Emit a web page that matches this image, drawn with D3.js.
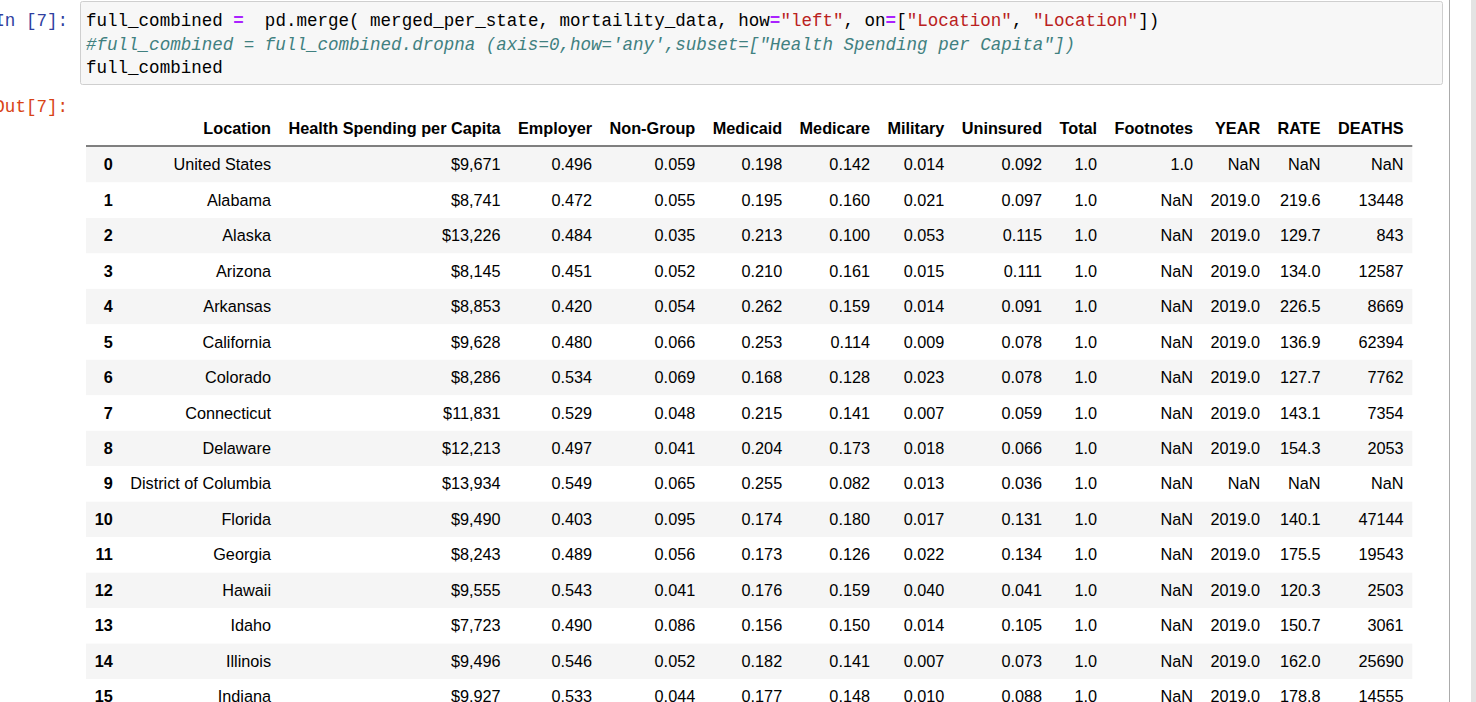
<!DOCTYPE html>
<html>
<head>
<meta charset="utf-8">
<script src="https://cdn.jsdelivr.net/npm/d3@7"></script>
<style>
  body { margin: 0; background: #fff; overflow: hidden; }
  svg { display: block; }
  .mono { font-family: "Liberation Mono", "DejaVu Sans Mono", monospace; font-size: 17.55px; }
  .cell { font-family: Arial, "Liberation Sans", sans-serif; font-size: 16.25px; fill: #000; }
  .head { font-weight: bold; }
</style>
</head>
<body>
<svg id="chart" width="1476" height="702"></svg>
<script>
// table data (null = NaN)
const headers = ['', 'Location', 'Health Spending per Capita', 'Employer', 'Non-Group', 'Medicaid',
  'Medicare', 'Military', 'Uninsured', 'Total', 'Footnotes', 'YEAR', 'RATE', 'DEATHS']
const locations = ['United States', 'Alabama', 'Alaska', 'Arizona', 'Arkansas', 'California', 'Colorado',
  'Connecticut', 'Delaware', 'District of Columbia', 'Florida', 'Georgia', 'Hawaii', 'Idaho', 'Illinois', 'Indiana']
const spending = [9671, 8741, 13226, 8145, 8853, 9628, 8286, 11831, 12213, 13934, 9490, 8243, 9555, 7723, 9496, 9927]
const employer = [0.496, 0.472, 0.484, 0.451, 0.420, 0.480, 0.534, 0.529, 0.497, 0.549, 0.403, 0.489, 0.543, 0.490, 0.546, 0.533]
const nonGroup = [0.059, 0.055, 0.035, 0.052, 0.054, 0.066, 0.069, 0.048, 0.041, 0.065, 0.095, 0.056, 0.041, 0.086, 0.052, 0.044]
const medicaid = [0.198, 0.195, 0.213, 0.210, 0.262, 0.253, 0.168, 0.215, 0.204, 0.255, 0.174, 0.173, 0.176, 0.156, 0.182, 0.177]
const medicare = [0.142, 0.160, 0.100, 0.161, 0.159, 0.114, 0.128, 0.141, 0.173, 0.082, 0.180, 0.126, 0.159, 0.150, 0.141, 0.148]
const military = [0.014, 0.021, 0.053, 0.015, 0.014, 0.009, 0.023, 0.007, 0.018, 0.013, 0.017, 0.022, 0.040, 0.014, 0.007, 0.010]
const uninsured = [0.092, 0.097, 0.115, 0.111, 0.091, 0.078, 0.078, 0.059, 0.066, 0.036, 0.131, 0.134, 0.041, 0.105, 0.073, 0.088]
const total = [1, 1, 1, 1, 1, 1, 1, 1, 1, 1, 1, 1, 1, 1, 1, 1]
const footnotes = [1, null, null, null, null, null, null, null, null, null, null, null, null, null, null, null]
const year = [null, 2019, 2019, 2019, 2019, 2019, 2019, 2019, 2019, null, 2019, 2019, 2019, 2019, 2019, 2019]
const rate = [null, 219.6, 129.7, 134.0, 226.5, 136.9, 127.7, 143.1, 154.3, null, 140.1, 175.5, 120.3, 150.7, 162.0, 178.8]
const deaths = [null, 13448, 843, 12587, 8669, 62394, 7762, 7354, 2053, null, 47144, 19543, 2503, 3061, 25690, 14555]

// code cell tokens: [text, class]
const codeLines = [
  [['full_combined ', 'n'], ['=', 'op'], ['  pd.merge( merged_per_state, mortaility_data, how', 'n'], ['=', 'op'],
    ['"left"', 's'], [', on', 'n'], ['=', 'op'], ['[', 'n'], ['"Location"', 's'], [', ', 'n'], ['"Location"', 's'], ['])', 'n']],
  [['#full_combined = full_combined.dropna (axis=0,how=\'any\',subset=["Health Spending per Capita"])', 'c']],
  [['full_combined', 'n']]
]

const tokenStyle = {
  n: { fill: '#000' },
  op: { fill: '#aa22ff', 'font-weight': 'bold' },
  s: { fill: '#ba2121' },
  c: { fill: '#408080', 'font-style': 'italic' }
}

const fmt3 = d3.format('.3f')
const fmt1 = d3.format('.1f')
const nan = f => v => (v == null ? 'NaN' : f(v))

const rows = locations.map((loc, i) => [
  String(i), loc, '$' + d3.format(',')(spending[i]), fmt3(employer[i]), fmt3(nonGroup[i]), fmt3(medicaid[i]),
  fmt3(medicare[i]), fmt3(military[i]), fmt3(uninsured[i]), fmt1(total[i]), nan(fmt1)(footnotes[i]),
  nan(fmt1)(year[i]), nan(fmt1)(rate[i]), nan(d3.format('d'))(deaths[i])
])

const svg = d3.select('#chart')

// right-hand page chrome
svg.append('line').attr('x1', 1449.5).attr('x2', 1449.5).attr('y1', 0).attr('y2', 702)
  .attr('stroke', '#ababab')
svg.append('rect').attr('x', 1471).attr('y', 0).attr('width', 5).attr('height', 702).attr('fill', '#e3e3e3')

// prompts (clipped at the left edge, as in the notebook)
svg.append('text').attr('class', 'mono').attr('x', 68).attr('y', 26).attr('text-anchor', 'end')
  .attr('fill', '#303f9f').text('In [7]:')
svg.append('text').attr('class', 'mono').attr('x', 68).attr('y', 112).attr('text-anchor', 'end')
  .attr('fill', '#d84315').text('Out[7]:')

// input cell
svg.append('rect').attr('x', 80.5).attr('y', 1.5).attr('width', 1362).attr('height', 83).attr('rx', 2)
  .attr('fill', '#f7f7f7').attr('stroke', '#cfcfcf')

const codeY = d3.scaleLinear().domain([0, 1]).range([26, 49.5])
codeLines.forEach((line, li) => {
  let t = svg.append('text').attr('class', 'mono').attr('x', 86).attr('y', codeY(li)).attr('xml:space', 'preserve')
  line.forEach(([txt, cls]) => {
    let span = t.append('tspan').text(txt)
    for (let a in tokenStyle[cls]) span.attr(a, tokenStyle[cls][a])
  })
})

// measure text so columns size like an html table
let probe = svg.append('text').attr('class', 'cell')
function measure (txt, bold) {
  probe.classed('head', !!bold).text(txt)
  return probe.node().getComputedTextLength()
}

const pad = 8.7
const colW = headers.map((h, c) => {
  let w = measure(h, true)
  rows.forEach(r => { w = Math.max(w, measure(r[c], c === 0)) })
  return w + 2 * pad
})
probe.remove()

const tableX = 86
const colRight = colW.map((w, c) => tableX + d3.sum(colW.slice(0, c + 1)) - pad)
const tableW = d3.sum(colW)

const y = d3.scaleBand().domain(d3.range(rows.length)).range([146.5, 146.5 + rows.length * 35.47])

// header
const head = svg.append('g')
head.selectAll('text').data(headers).join('text')
  .attr('class', 'cell head')
  .attr('x', (d, c) => colRight[c])
  .attr('y', 134)
  .attr('text-anchor', 'end')
  .text(d => d)
head.append('line').attr('x1', tableX).attr('x2', tableX + tableW).attr('y1', 146).attr('y2', 146)
  .attr('stroke', '#000')

// body
const rowG = svg.append('g').selectAll('g').data(rows).join('g')
  .attr('transform', (d, i) => `translate(0,${y(i)})`)

rowG.append('rect')
  .attr('x', tableX).attr('y', 0.5).attr('width', tableW).attr('height', y.bandwidth())
  .attr('fill', (d, i) => (i % 2 === 0 ? '#f5f5f5' : '#fff'))

rowG.selectAll('text').data(d => d).join('text')
  .attr('class', (d, c) => (c === 0 ? 'cell head' : 'cell'))
  .attr('x', (d, c) => colRight[c])
  .attr('y', y.bandwidth() / 2 + 6)
  .attr('text-anchor', 'end')
  .text(d => d)
</script>
</body>
</html>
